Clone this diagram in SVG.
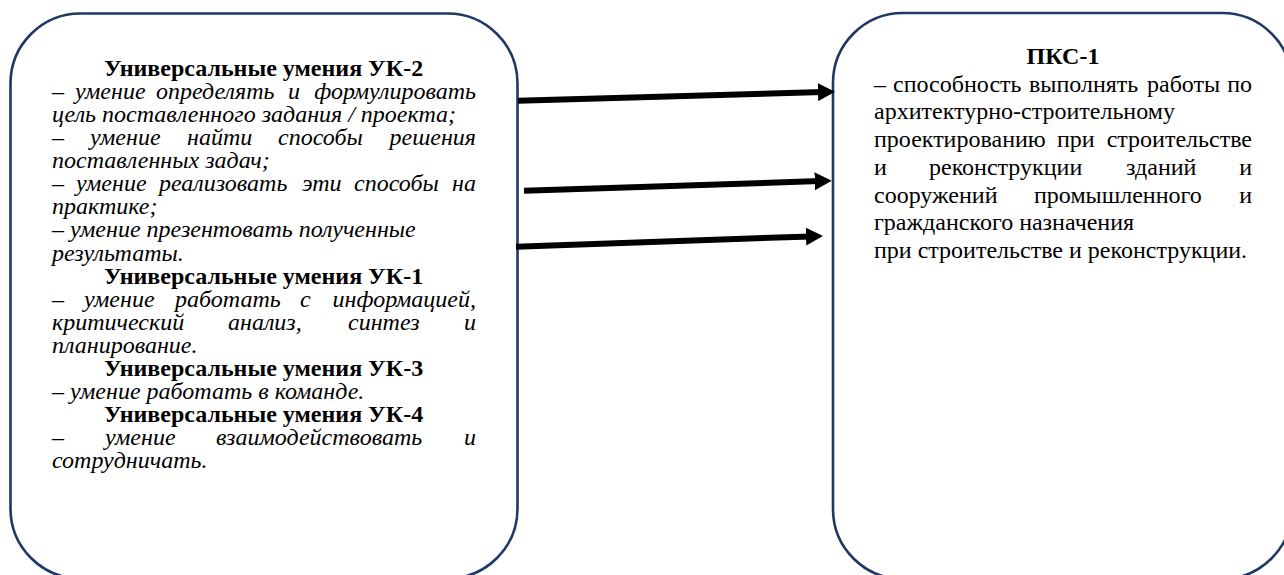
<svg xmlns="http://www.w3.org/2000/svg" width="1284" height="575" viewBox="0 0 1284 575">
<style>
.box{fill:#fff;stroke:#1f3864;stroke-width:2.6}
text{font-family:"Liberation Serif","Times New Roman",serif;font-size:24px;fill:#000}
.b{font-weight:bold}
.i{font-style:italic}
.e{text-anchor:end}
.arr{stroke:#000;stroke-width:6;fill:none}
</style>
<defs>
<marker id="ah" markerUnits="userSpaceOnUse" markerWidth="17" markerHeight="18" refX="5" refY="9" orient="auto">
<path d="M0,0 L17,9 L0,18 z" fill="#000"/>
</marker>
</defs>
<rect width="1284" height="575" fill="#fff"/>
<g id="left-node">
<rect class="box" x="10.5" y="13.5" width="507" height="565" rx="70" ry="70"/>
<text class="b" x="104" y="76">Универсальные умения УК-2</text>
<text class="i" y="99.1"><tspan x="52">–</tspan><tspan x="75">умение</tspan><tspan x="156">определять</tspan><tspan x="288">и</tspan><tspan class="e" x="476">формулировать</tspan></text>
<text class="i" x="52" y="122.1">цель поставленного задания / проекта;</text>
<text class="i" y="145.2"><tspan x="52">–</tspan><tspan x="90">умение</tspan><tspan x="187">найти</tspan><tspan x="278">способы</tspan><tspan class="e" x="476">решения</tspan></text>
<text class="i" x="52" y="168.2">поставленных задач;</text>
<text class="i" y="191.3"><tspan x="52">–</tspan><tspan x="76">умение</tspan><tspan x="159">реализовать</tspan><tspan x="302">эти</tspan><tspan x="354">способы</tspan><tspan class="e" x="476">на</tspan></text>
<text class="i" x="52" y="214.4">практике;</text>
<text class="i" x="52" y="237.4">– умение презентовать полученные</text>
<text class="i" x="52" y="260.5">результаты.</text>
<text class="b" x="104" y="283.5">Универсальные умения УК-1</text>
<text class="i" y="306.6"><tspan x="52">–</tspan><tspan x="84">умение</tspan><tspan x="175">работать</tspan><tspan x="300">с</tspan><tspan class="e" x="476">информацией,</tspan></text>
<text class="i" y="329.7"><tspan x="52">критический</tspan><tspan x="228">анализ,</tspan><tspan x="348">синтез</tspan><tspan class="e" x="476">и</tspan></text>
<text class="i" x="52" y="352.7">планирование.</text>
<text class="b" x="104" y="375.8">Универсальные умения УК-3</text>
<text class="i" x="52" y="398.8">– умение работать в команде.</text>
<text class="b" x="104" y="421.9">Универсальные умения УК-4</text>
<text class="i" y="445"><tspan x="52">–</tspan><tspan x="105">умение</tspan><tspan x="216">взаимодействовать</tspan><tspan class="e" x="476">и</tspan></text>
<text class="i" x="52" y="468">сотрудничать.</text>
</g>
<g id="right-node">
<rect class="box" x="833" y="13" width="459" height="566" rx="70" ry="70"/>
<text class="b" x="1063" y="64" text-anchor="middle">ПКС-1</text>
<text y="91.7"><tspan x="874">–</tspan><tspan x="893">способность</tspan><tspan x="1029">выполнять</tspan><tspan x="1147">работы</tspan><tspan class="e" x="1252">по</tspan></text>
<text x="874" y="119.4">архитектурно-строительному</text>
<text y="147.1"><tspan x="874">проектированию</tspan><tspan x="1057">при</tspan><tspan class="e" x="1252">строительстве</tspan></text>
<text y="174.8"><tspan x="874">и</tspan><tspan x="929">реконструкции</tspan><tspan x="1126">зданий</tspan><tspan class="e" x="1252">и</tspan></text>
<text y="202.5"><tspan x="874">сооружений</tspan><tspan x="1034">промышленного</tspan><tspan class="e" x="1252">и</tspan></text>
<text x="874" y="230.2">гражданского назначения</text>
<text x="874" y="257.9">при строительстве и реконструкции.</text>
</g>
<g id="connectors">
<line class="arr" x1="518" y1="100.7" x2="823" y2="92" marker-end="url(#ah)"/>
<line class="arr" x1="524" y1="190.7" x2="819.7" y2="181.1" marker-end="url(#ah)"/>
<line class="arr" x1="516" y1="246.7" x2="811" y2="236.4" marker-end="url(#ah)"/>
</g>
</svg>
